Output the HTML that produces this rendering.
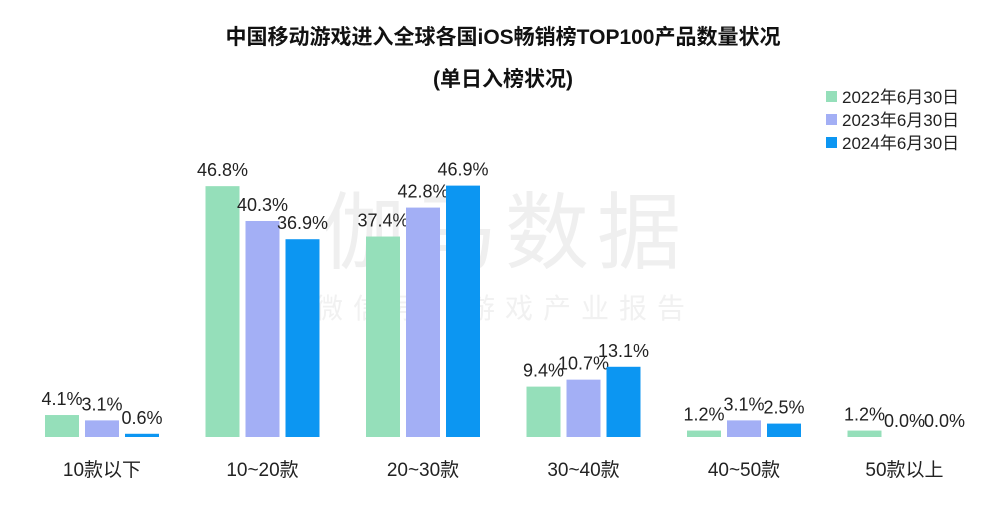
<!DOCTYPE html>
<html><head><meta charset="utf-8"><style>
body{margin:0;background:#fff;width:1007px;height:500px;overflow:hidden;font-family:"Liberation Sans","Noto Sans CJK SC",sans-serif}
</style></head><body>
<svg width="1007" height="500">
<text x="503" y="44" text-anchor="middle" font-size="21" font-weight="bold" fill="#111">中国移动游戏进入全球各国iOS畅销榜TOP100产品数量状况</text>
<text x="503" y="86" text-anchor="middle" font-size="21" font-weight="bold" fill="#111">(单日入榜状况)</text>
<text x="505" y="262" text-anchor="middle" font-size="84" fill="#efefef" letter-spacing="8">伽马数据</text>
<text x="505" y="318" text-anchor="middle" font-size="28" fill="#f1f1f1" letter-spacing="10">微信号：游戏产业报告</text>
<g id="legend"></g>
<g id="bars"></g>
</svg>
<script>
const categories=["10款以下","10~20款","20~30款","30~40款","40~50款","50款以上"];
const series2022=[4.1,46.8,37.4,9.4,1.2,1.2];
const series2023=[3.1,40.3,42.8,10.7,3.1,0.0];
const series2024=[0.6,36.9,46.9,13.1,2.5,0.0];
const seriesNames=["2022年6月30日","2023年6月30日","2024年6月30日"];
const colors=["#95DFBA","#A3AFF5","#0C96F2"];
const NS="http://www.w3.org/2000/svg";
const base=437, pxPer=5.36, x0=45, step=160.5, bw=34, gap=6;
const yScale=v=>base-v*pxPer;
const xBar=(ci,si)=>x0+ci*step+si*(bw+gap);
const g=document.getElementById('bars');
const all=[series2022,series2023,series2024];
function mk(tag,attrs){const e=document.createElementNS(NS,tag);for(const k in attrs)e.setAttribute(k,attrs[k]);return e;}
all.forEach((s,si)=>{s.forEach((v,ci)=>{
  const h=Math.max(v*pxPer,0);
  const r=mk('rect',{x:xBar(ci,si),y:yScale(v),width:bw,height:h,fill:colors[si]});
  
  
  g.appendChild(r);
  const t=mk('text',{x:xBar(ci,si)+bw/2,y:yScale(v)-10,'text-anchor':'middle','font-size':18,fill:'#222'});
  t.textContent=v.toFixed(1)+'%';
  
  
  g.appendChild(t);
});});
categories.forEach((c,ci)=>{
  const t=mk('text',{x:xBar(ci,1)+bw/2,y:476,'text-anchor':'middle','font-size':19,fill:'#222'});
  t.textContent=c;
  
  
  g.appendChild(t);
});
const lg=document.getElementById('legend');
seriesNames.forEach((n,i)=>{
  const r=mk('rect',{x:826,y:91+i*23,width:11,height:11,fill:colors[i]});
  
  
  lg.appendChild(r);
  const t=mk('text',{x:842,y:103+i*23,'font-size':17,fill:'#222'});
  t.textContent=n;
  
  
  lg.appendChild(t);
});
</script>
</body></html>
